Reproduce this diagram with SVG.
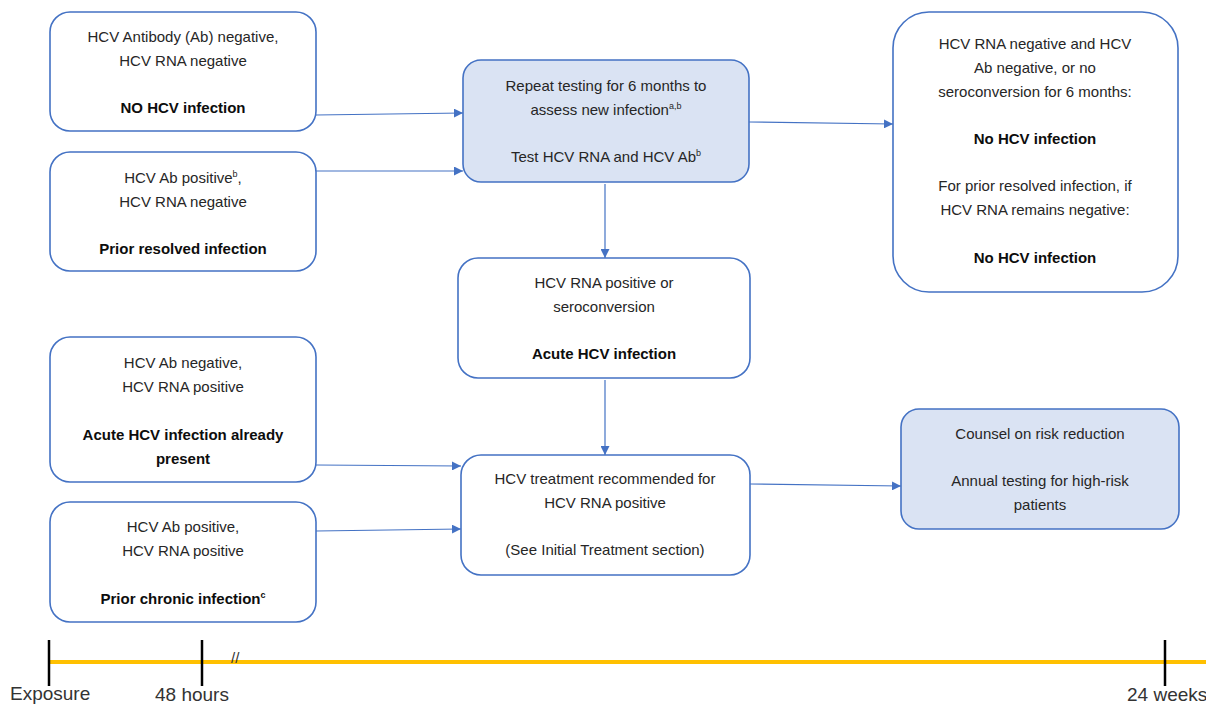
<svg xmlns="http://www.w3.org/2000/svg" width="1206" height="706" viewBox="0 0 1206 706">
<defs>
<style>
.box{fill:#ffffff;stroke:#4472C4;stroke-width:1.6}
.fill{fill:#DAE3F3}
text{font-family:"Liberation Sans",Arial,sans-serif;font-size:15px;fill:#262626;text-anchor:middle}
.b{font-weight:bold;fill:#0d0d0d;font-size:15px}
.sup{font-size:9px}
.con{stroke:#4472C4;stroke-width:1.2;fill:none;marker-end:url(#ah)}
.tl{text-anchor:start;font-size:19px;fill:#333}
</style>
<marker id="ah" viewBox="0 0 10 10" refX="10" refY="5" markerWidth="9" markerHeight="9" markerUnits="userSpaceOnUse" orient="auto">
<path d="M0,0 L10,5 L0,10 z" fill="#4472C4"/>
</marker>
</defs>
<rect width="1206" height="706" fill="#ffffff"/>

<g id="connectors">
<path class="con" d="M316,115 L463,113"/>
<path class="con" d="M316,171 L463,171"/>
<path class="con" d="M749,122 L893,124"/>
<path class="con" d="M605,184 L605,258"/>
<path class="con" d="M605,380 L605,455"/>
<path class="con" d="M316,465 L461,466"/>
<path class="con" d="M316,531 L461,529"/>
<path class="con" d="M750,484 L901,486"/>
</g>

<g id="n1">
<rect class="box" x="50" y="12" width="266" height="119" rx="20"/>
<text x="183" y="42">HCV Antibody (Ab) negative,</text>
<text x="183" y="66">HCV RNA negative</text>
<text class="b" x="183" y="113">NO HCV infection</text>
</g>

<g id="n2">
<rect class="box" x="50" y="152" width="266" height="119" rx="20"/>
<text x="183" y="183">HCV Ab positive<tspan class="sup" dy="-6">b</tspan><tspan dy="6">,</tspan></text>
<text x="183" y="207">HCV RNA negative</text>
<text class="b" x="183" y="254">Prior resolved infection</text>
</g>

<g id="n3">
<rect class="box" x="50" y="337" width="266" height="145" rx="20"/>
<text x="183" y="368">HCV Ab negative,</text>
<text x="183" y="392">HCV RNA positive</text>
<text class="b" x="183" y="440">Acute HCV infection already</text>
<text class="b" x="183" y="464">present</text>
</g>

<g id="n4">
<rect class="box" x="50" y="502" width="266" height="120" rx="20"/>
<text x="183" y="532">HCV Ab positive,</text>
<text x="183" y="556">HCV RNA positive</text>
<text class="b" x="183" y="604">Prior chronic infection<tspan class="sup" dy="-6">c</tspan></text>
</g>

<g id="c1">
<rect class="box fill" x="463" y="60" width="286" height="122" rx="18"/>
<text x="606" y="91">Repeat testing for 6 months to</text>
<text x="606" y="115">assess new infection<tspan class="sup" dy="-6">a,b</tspan></text>
<text x="606" y="162">Test HCV RNA and HCV Ab<tspan class="sup" dy="-6">b</tspan></text>
</g>

<g id="c2">
<rect class="box" x="458" y="258" width="292" height="120" rx="20"/>
<text x="604" y="288">HCV RNA positive or</text>
<text x="604" y="312">seroconversion</text>
<text class="b" x="604" y="359">Acute HCV infection</text>
</g>

<g id="c3">
<rect class="box" x="461" y="455" width="289" height="120" rx="20"/>
<text x="605" y="484">HCV treatment recommended for</text>
<text x="605" y="508">HCV RNA positive</text>
<text x="605" y="555">(See Initial Treatment section)</text>
</g>

<g id="r1">
<rect class="box" x="893" y="12" width="285" height="280" rx="36"/>
<text x="1035" y="49">HCV RNA negative and HCV</text>
<text x="1035" y="73">Ab negative, or no</text>
<text x="1035" y="97">seroconversion for 6 months:</text>
<text class="b" x="1035" y="144">No HCV infection</text>
<text x="1035" y="191">For prior resolved infection, if</text>
<text x="1035" y="215">HCV RNA remains negative:</text>
<text class="b" x="1035" y="263">No HCV infection</text>
</g>

<g id="r2">
<rect class="box fill" x="901" y="409" width="278" height="120" rx="18"/>
<text x="1040" y="439">Counsel on risk reduction</text>
<text x="1040" y="486">Annual testing for high-risk</text>
<text x="1040" y="510">patients</text>
</g>

<g id="timeline">
<line x1="49" y1="662" x2="1206" y2="662" stroke="#FFC000" stroke-width="4"/>
<line x1="49" y1="640" x2="49" y2="686" stroke="#000" stroke-width="2.5"/>
<line x1="202" y1="640" x2="202" y2="686" stroke="#000" stroke-width="2.5"/>
<line x1="1165" y1="640" x2="1165" y2="686" stroke="#000" stroke-width="2.5"/>
<text class="tl" x="231" y="663" style="font-size:15px">//</text>
<text class="tl" x="10" y="700">Exposure</text>
<text class="tl" x="155" y="701">48 hours</text>
<text class="tl" x="1127" y="701">24 weeks</text>
</g>
</svg>
